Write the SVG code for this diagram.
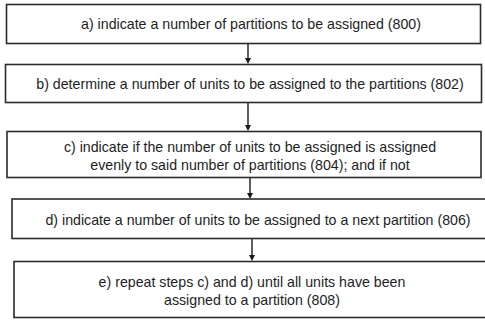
<svg xmlns="http://www.w3.org/2000/svg" width="485" height="320" viewBox="0 0 485 320">
  <defs>
    <style>
      .box { fill: #ffffff; stroke: #2b2b2b; stroke-width: 1.6; }
      .lbl { font-family: "Liberation Sans", Arial, sans-serif; font-size: 14.2px; fill: #1e1e1e; text-anchor: middle; }
      .conn { stroke: #1a1a1a; stroke-width: 1.4; fill: none; }
      .head { fill: #1a1a1a; }
    </style>
  </defs>
  <rect width="485" height="320" fill="#ffffff"/>

  <g id="connectors">
    <line class="conn" x1="248" y1="44" x2="248" y2="59"/>
    <path class="head" d="M245,58 L251,58 L248,64 Z"/>
    <line class="conn" x1="248" y1="103" x2="248" y2="126"/>
    <path class="head" d="M245,125 L251,125 L248,131 Z"/>
    <line class="conn" x1="250" y1="178" x2="250" y2="194"/>
    <path class="head" d="M247,193 L253,193 L250,199 Z"/>
    <line class="conn" x1="252" y1="239" x2="252" y2="256"/>
    <path class="head" d="M249,255 L255,255 L252,261 Z"/>
  </g>

  <g id="step-800">
    <rect class="box" x="6.5" y="4.5" width="474" height="39"/>
    <text class="lbl" x="251" y="29">a) indicate a number of partitions to be assigned (800)</text>
  </g>

  <g id="step-802">
    <rect class="box" x="5.5" y="64.5" width="476" height="38"/>
    <text class="lbl" x="250" y="89">b) determine a number of units to be assigned to the partitions (802)</text>
  </g>

  <g id="step-804">
    <rect class="box" x="7" y="131.5" width="474" height="46"/>
    <text class="lbl" x="250" y="152">c) indicate if the number of units to be assigned is assigned</text>
    <text class="lbl" x="250" y="170">evenly to said number of partitions (804); and if not</text>
  </g>

  <g id="step-806">
    <rect class="box" x="12" y="199" width="480" height="39.5"/>
    <text class="lbl" x="258" y="224.5">d) indicate a number of units to be assigned to a next partition (806)</text>
  </g>

  <g id="step-808">
    <rect class="box" x="14" y="261.5" width="480" height="56"/>
    <text class="lbl" x="252" y="287">e) repeat steps c) and d) until all units have been</text>
    <text class="lbl" x="252" y="304.5">assigned to a partition (808)</text>
  </g>
</svg>
